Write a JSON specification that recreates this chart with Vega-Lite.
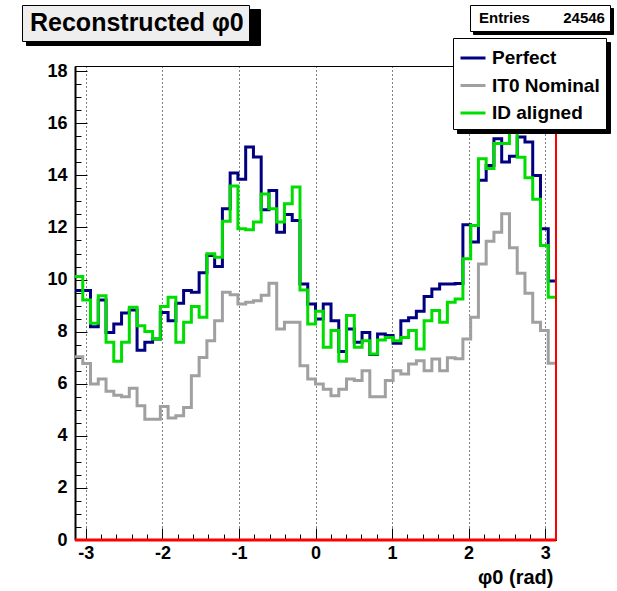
{
  "$schema": "https://vega.github.io/schema/vega-lite/v6.json",
  "width": 481,
  "height": 474,
  "autosize": "none",
  "padding": {"left": 75, "top": 66, "right": 61, "bottom": 51},
  "background": "white",
  "config": {
    "view": {"stroke": "black", "strokeWidth": 1},
    "font": "Liberation Sans"
  },
  "resolve": {"axis": {"x": "independent", "y": "independent"}},
  "layer": [
    {
      "data": {
        "values": [
          {"x": -3.1416, "Perfect": 9.58, "IT0 Nominal": 7.04, "ID aligned": 10.12},
          {"x": -3.0402, "Perfect": 9.58, "IT0 Nominal": 6.78, "ID aligned": 9.22},
          {"x": -2.9389, "Perfect": 8.19, "IT0 Nominal": 5.99, "ID aligned": 8.32},
          {"x": -2.8375, "Perfect": 9.22, "IT0 Nominal": 6.18, "ID aligned": 9.38},
          {"x": -2.7362, "Perfect": 7.97, "IT0 Nominal": 5.71, "ID aligned": 7.59},
          {"x": -2.6349, "Perfect": 8.29, "IT0 Nominal": 5.56, "ID aligned": 6.86},
          {"x": -2.5335, "Perfect": 8.72, "IT0 Nominal": 5.50, "ID aligned": 7.59},
          {"x": -2.4322, "Perfect": 8.83, "IT0 Nominal": 5.83, "ID aligned": 8.94},
          {"x": -2.3308, "Perfect": 7.29, "IT0 Nominal": 5.15, "ID aligned": 8.23},
          {"x": -2.2295, "Perfect": 7.59, "IT0 Nominal": 4.64, "ID aligned": 8.01},
          {"x": -2.1282, "Perfect": 7.72, "IT0 Nominal": 4.64, "ID aligned": 7.72},
          {"x": -2.0268, "Perfect": 8.74, "IT0 Nominal": 5.13, "ID aligned": 8.97},
          {"x": -1.9255, "Perfect": 8.42, "IT0 Nominal": 4.68, "ID aligned": 9.32},
          {"x": -1.8241, "Perfect": 9.09, "IT0 Nominal": 4.77, "ID aligned": 7.59},
          {"x": -1.7228, "Perfect": 9.58, "IT0 Nominal": 5.09, "ID aligned": 8.36},
          {"x": -1.6215, "Perfect": 9.51, "IT0 Nominal": 6.31, "ID aligned": 8.97},
          {"x": -1.5201, "Perfect": 10.26, "IT0 Nominal": 7.01, "ID aligned": 8.55},
          {"x": -1.4188, "Perfect": 10.92, "IT0 Nominal": 7.65, "ID aligned": 10.99},
          {"x": -1.3174, "Perfect": 10.5, "IT0 Nominal": 8.42, "ID aligned": 10.86},
          {"x": -1.2161, "Perfect": 12.72, "IT0 Nominal": 9.51, "ID aligned": 12.24},
          {"x": -1.1148, "Perfect": 14.09, "IT0 Nominal": 9.42, "ID aligned": 13.59},
          {"x": -1.0134, "Perfect": 13.85, "IT0 Nominal": 9.06, "ID aligned": 11.95},
          {"x": -0.9121, "Perfect": 15.09, "IT0 Nominal": 9.13, "ID aligned": 11.91},
          {"x": -0.8107, "Perfect": 14.71, "IT0 Nominal": 9.19, "ID aligned": 12.21},
          {"x": -0.7094, "Perfect": 12.68, "IT0 Nominal": 9.40, "ID aligned": 13.29},
          {"x": -0.6081, "Perfect": 13.42, "IT0 Nominal": 9.86, "ID aligned": 12.72},
          {"x": -0.5067, "Perfect": 11.82, "IT0 Nominal": 8.10, "ID aligned": 12.21},
          {"x": -0.4054, "Perfect": 12.5, "IT0 Nominal": 8.36, "ID aligned": 12.91},
          {"x": -0.3040, "Perfect": 12.27, "IT0 Nominal": 8.36, "ID aligned": 13.55},
          {"x": -0.2027, "Perfect": 9.83, "IT0 Nominal": 6.69, "ID aligned": 9.6},
          {"x": -0.1013, "Perfect": 9.06, "IT0 Nominal": 6.18, "ID aligned": 8.29},
          {"x": 0.0, "Perfect": 8.49, "IT0 Nominal": 5.99, "ID aligned": 8.78},
          {"x": 0.1013, "Perfect": 9.06, "IT0 Nominal": 5.79, "ID aligned": 7.40},
          {"x": 0.2027, "Perfect": 8.42, "IT0 Nominal": 5.54, "ID aligned": 8.04},
          {"x": 0.3040, "Perfect": 7.24, "IT0 Nominal": 5.79, "ID aligned": 6.86},
          {"x": 0.4054, "Perfect": 8.10, "IT0 Nominal": 6.18, "ID aligned": 8.62},
          {"x": 0.5067, "Perfect": 7.59, "IT0 Nominal": 6.12, "ID aligned": 7.40},
          {"x": 0.6081, "Perfect": 7.97, "IT0 Nominal": 6.5, "ID aligned": 7.65},
          {"x": 0.7094, "Perfect": 7.12, "IT0 Nominal": 5.5, "ID aligned": 7.14},
          {"x": 0.8107, "Perfect": 7.91, "IT0 Nominal": 5.5, "ID aligned": 7.68},
          {"x": 0.9121, "Perfect": 7.85, "IT0 Nominal": 6.12, "ID aligned": 7.78},
          {"x": 1.0134, "Perfect": 7.55, "IT0 Nominal": 6.5, "ID aligned": 7.65},
          {"x": 1.1148, "Perfect": 8.42, "IT0 Nominal": 6.37, "ID aligned": 7.78},
          {"x": 1.2161, "Perfect": 8.53, "IT0 Nominal": 6.76, "ID aligned": 8.04},
          {"x": 1.3174, "Perfect": 8.78, "IT0 Nominal": 6.88, "ID aligned": 7.33},
          {"x": 1.4188, "Perfect": 9.35, "IT0 Nominal": 6.5, "ID aligned": 8.42},
          {"x": 1.5201, "Perfect": 9.64, "IT0 Nominal": 6.95, "ID aligned": 8.81},
          {"x": 1.6215, "Perfect": 9.83, "IT0 Nominal": 6.5, "ID aligned": 8.36},
          {"x": 1.7228, "Perfect": 9.83, "IT0 Nominal": 7.0, "ID aligned": 9.13},
          {"x": 1.8241, "Perfect": 9.85, "IT0 Nominal": 6.96, "ID aligned": 9.25},
          {"x": 1.9255, "Perfect": 12.1, "IT0 Nominal": 7.72, "ID aligned": 10.8},
          {"x": 2.0268, "Perfect": 11.44, "IT0 Nominal": 8.55, "ID aligned": 12.08},
          {"x": 2.1282, "Perfect": 13.81, "IT0 Nominal": 10.6, "ID aligned": 14.64},
          {"x": 2.2295, "Perfect": 14.38, "IT0 Nominal": 11.47, "ID aligned": 14.26},
          {"x": 2.3308, "Perfect": 15.41, "IT0 Nominal": 11.82, "ID aligned": 15.22},
          {"x": 2.4322, "Perfect": 14.51, "IT0 Nominal": 12.53, "ID aligned": 15.22},
          {"x": 2.5335, "Perfect": 14.73, "IT0 Nominal": 11.22, "ID aligned": 16.0},
          {"x": 2.6349, "Perfect": 15.47, "IT0 Nominal": 10.24, "ID aligned": 14.7},
          {"x": 2.7362, "Perfect": 15.28, "IT0 Nominal": 9.47, "ID aligned": 13.91},
          {"x": 2.8375, "Perfect": 14.0, "IT0 Nominal": 8.36, "ID aligned": 13.08},
          {"x": 2.9389, "Perfect": 11.95, "IT0 Nominal": 8.04, "ID aligned": 11.31},
          {"x": 3.0402, "Perfect": 9.94, "IT0 Nominal": 6.79, "ID aligned": 9.32},
          {"x": 3.1416, "Perfect": 9.94, "IT0 Nominal": 6.79, "ID aligned": 9.32}
        ]
      },
      "transform": [{"fold": ["Perfect", "IT0 Nominal", "ID aligned"], "as": ["series", "value"]}],
      "mark": {"type": "line", "interpolate": "step-after", "strokeWidth": 3, "clip": true},
      "encoding": {
        "x": {
          "field": "x", "type": "quantitative",
          "scale": {"domain": [-3.1416, 3.1416], "nice": false, "zero": false},
          "axis": {
            "orient": "bottom",
            "values": [-3, -2, -1, 0, 1, 2, 3],
            "tickCount": 200,
            "labelOverlap": false,
            "labelBound": false,
            "labelFlush": false,
            "labelExpr": "'' + datum.value",
            "tickSize": -12,
            "tickColor": "black",
            "tickWidth": 1,
            "grid": true,
            "gridColor": "black",
            "gridDash": [1, 3],
            "gridWidth": 1,
            "domainColor": "black",
            "labelFont": "Liberation Sans",
            "labelFontWeight": "bold",
            "labelFontSize": 18,
            "labelColor": "black",
            "labelPadding": 16,
            "title": "φ0 (rad)",
            "titleFont": "Liberation Sans",
            "titleFontWeight": "bold",
            "titleFontSize": 20,
            "titleColor": "black",
            "titleAnchor": "end",
            "titleAlign": "right",
            "titleX": 478,
            "titlePadding": 5
          }
        },
        "y": {
          "field": "value", "type": "quantitative",
          "scale": {"domain": [0, 18.2], "nice": false},
          "axis": {
            "orient": "left",
            "values": [0, 2, 4, 6, 8, 10, 12, 14, 16, 18],
            "tickCount": 200,
            "labelOverlap": false,
            "labelBound": false,
            "labelFlush": false,
            "labelExpr": "'' + datum.value",
            "tickSize": -12,
            "tickColor": "black",
            "tickWidth": 1,
            "grid": false,
            "domainColor": "black",
            "domainWidth": 2,
            "labelFont": "Liberation Sans",
            "labelFontWeight": "bold",
            "labelFontSize": 18,
            "labelColor": "black",
            "labelPadding": 20,
            "title": null
          }
        },
        "color": {
          "field": "series", "type": "nominal",
          "scale": {"domain": ["Perfect", "IT0 Nominal", "ID aligned"], "range": ["#000080", "#a0a0a0", "#00dd00"]},
          "legend": {
            "title": null,
            "orient": "none",
            "legendX": 378,
            "legendY": -28,
            "zindex": 2,
            "fillColor": "white",
            "strokeColor": "black",
            "padding": 6,
            "symbolType": "stroke",
            "symbolStrokeWidth": 3,
            "symbolSize": 625,
            "labelFont": "Liberation Sans",
            "labelFontWeight": "bold",
            "labelFontSize": 19,
            "labelColor": "black",
            "labelOffset": 5,
            "rowPadding": 3.5
          }
        }
      }
    },
    {
      "data": {"values": [{}]},
      "mark": {"type": "rule", "color": "red", "strokeWidth": 3},
      "encoding": {
        "y": {
          "datum": 0, "type": "quantitative",
          "axis": {
            "orient": "left",
            "values": [0.5, 1, 1.5, 2.5, 3, 3.5, 4.5, 5, 5.5, 6.5, 7, 7.5, 8.5, 9, 9.5, 10.5, 11, 11.5, 12.5, 13, 13.5, 14.5, 15, 15.5, 16.5, 17, 17.5],
            "tickCount": 200,
            "labels": false,
            "domain": false,
            "grid": false,
            "tickSize": -6,
            "tickColor": "black",
            "tickWidth": 1,
            "title": null
          }
        }
      }
    },
    {
      "data": {"values": [{}]},
      "mark": {"type": "rule", "color": "red", "strokeWidth": 2},
      "encoding": {
        "x": {
          "datum": 3.1416, "type": "quantitative",
          "axis": {
            "orient": "bottom",
            "values": [-2.8, -2.6, -2.4, -2.2, -1.8, -1.6, -1.4, -1.2, -0.8, -0.6, -0.4, -0.2, 0.2, 0.4, 0.6, 0.8, 1.2, 1.4, 1.6, 1.8, 2.2, 2.4, 2.6, 2.8],
            "tickCount": 200,
            "labels": false,
            "domain": false,
            "grid": false,
            "tickSize": -6,
            "tickColor": "black",
            "tickWidth": 1,
            "title": null
          }
        }
      }
    },
    {
      "data": {"values": [{"s": "Perfect\u200b"}, {"s": "IT0 Nominal\u200b"}, {"s": "ID aligned\u200b"}]},
      "mark": {"type": "point", "opacity": 0},
      "encoding": {
        "fill": {
          "field": "s", "type": "nominal",
          "scale": {"range": ["black", "black", "black"]},
          "legend": {
            "title": null,
            "orient": "none",
            "legendX": 382,
            "legendY": -24,
            "zindex": 1,
            "fillColor": "black",
            "strokeColor": "black",
            "padding": 6,
            "symbolType": "stroke",
            "symbolStrokeWidth": 3,
            "symbolSize": 625,
            "symbolOpacity": 0,
            "labelFont": "Liberation Sans",
            "labelFontWeight": "bold",
            "labelFontSize": 19,
            "labelColor": "black",
            "labelOpacity": 0,
            "labelOffset": 5,
            "rowPadding": 3.5
          }
        }
      }
    },
    {
      "data": {"values": [{"t2": "Reconstructed φ0\u00a0\u200b"}]},
      "mark": {"type": "point", "opacity": 0},
      "encoding": {
        "stroke": {
          "field": "t2", "type": "nominal",
          "scale": {"range": ["black"]},
          "legend": {
            "title": null,
            "orient": "none",
            "legendX": -49,
            "legendY": -57,
            "zindex": 1,
            "fillColor": "black",
            "strokeColor": "black",
            "padding": 5,
            "symbolSize": 0,
            "symbolStrokeWidth": 0,
            "symbolOpacity": 0,
            "labelOffset": -22,
            "labelLimit": 600,
            "labelFont": "Liberation Sans",
            "labelFontWeight": "bold",
            "labelFontSize": 25,
            "labelColor": "black",
            "labelOpacity": 0
          }
        }
      }
    },
    {
      "data": {"values": [{"t": "Reconstructed φ0\u00a0"}]},
      "mark": {"type": "point", "opacity": 0},
      "encoding": {
        "shape": {
          "field": "t", "type": "nominal",
          "legend": {
            "title": null,
            "orient": "none",
            "legendX": -53,
            "legendY": -61,
            "zindex": 2,
            "fillColor": "#eeeeee",
            "strokeColor": "black",
            "padding": 5,
            "symbolSize": 0,
            "symbolStrokeWidth": 0,
            "symbolOpacity": 0,
            "labelOffset": -22,
            "labelLimit": 600,
            "labelFont": "Liberation Sans",
            "labelFontWeight": "bold",
            "labelFontSize": 25,
            "labelColor": "black"
          }
        }
      }
    },
    {
      "data": {"values": [{"e2": "Entries\u00a0\u00a0\u00a0\u00a0\u00a0\u00a0\u00a0\u00a024546\u200b"}]},
      "mark": {"type": "point", "opacity": 0},
      "encoding": {
        "strokeDash": {
          "field": "e2", "type": "nominal",
          "legend": {
            "title": null,
            "orient": "none",
            "legendX": 398,
            "legendY": -58,
            "zindex": 1,
            "fillColor": "black",
            "strokeColor": "black",
            "padding": 5,
            "symbolSize": 0,
            "symbolStrokeWidth": 0,
            "symbolOpacity": 0,
            "labelOffset": -11,
            "labelLimit": 600,
            "labelFont": "Liberation Sans",
            "labelFontWeight": "bold",
            "labelFontSize": 15,
            "labelColor": "black",
            "labelOpacity": 0
          }
        }
      }
    },
    {
      "data": {"values": [{"e": "Entries\u00a0\u00a0\u00a0\u00a0\u00a0\u00a0\u00a0\u00a024546"}]},
      "mark": {"type": "point", "opacity": 0},
      "encoding": {
        "size": {
          "field": "e", "type": "nominal",
          "legend": {
            "title": null,
            "orient": "none",
            "legendX": 395,
            "legendY": -61,
            "zindex": 2,
            "fillColor": "white",
            "strokeColor": "black",
            "padding": 5,
            "symbolSize": 0,
            "symbolStrokeWidth": 0,
            "symbolOpacity": 0,
            "labelOffset": -11,
            "labelLimit": 600,
            "labelFont": "Liberation Sans",
            "labelFontWeight": "bold",
            "labelFontSize": 15,
            "labelColor": "black"
          }
        }
      }
    }
  ]
}
